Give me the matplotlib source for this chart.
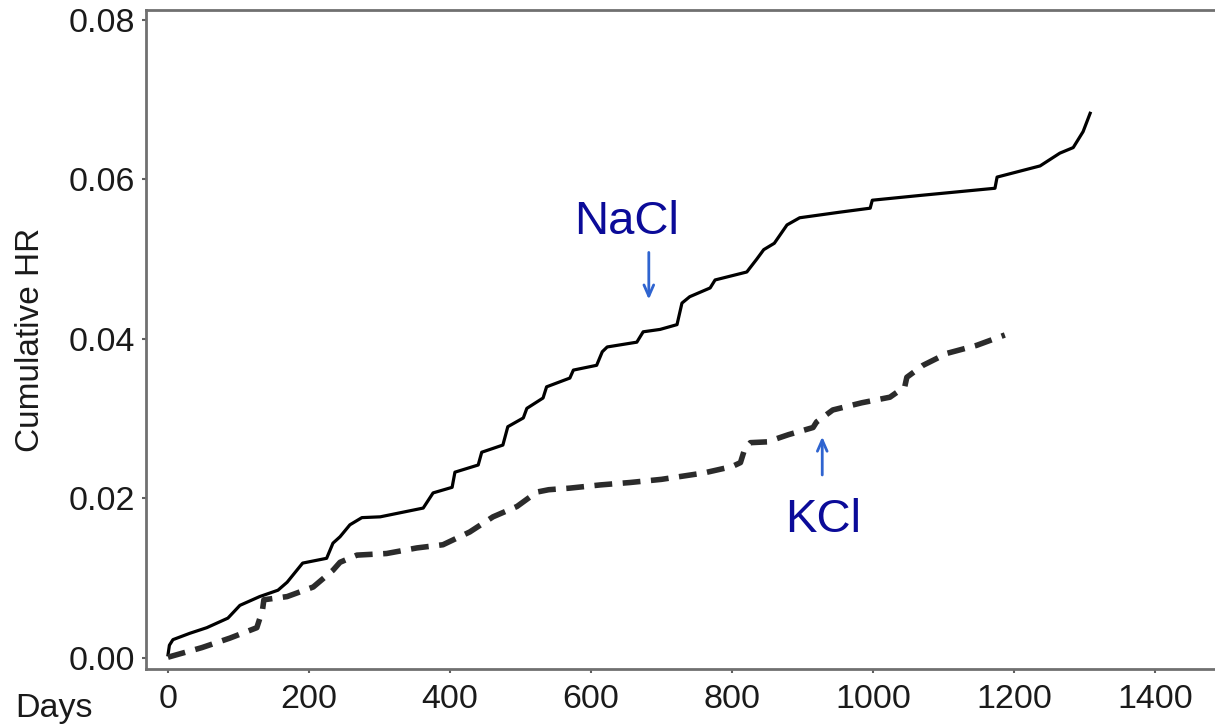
import matplotlib
matplotlib.use("Agg")
import matplotlib.pyplot as plt

plt.rcParams['font.family'] = ['Liberation Sans', 'DejaVu Sans']

# Cumulative hazard curves (days, cumulative HR)
nacl_days = [0, 2, 7, 31, 55, 85, 102, 130, 156, 169, 191, 225, 234, 244, 258,
             275, 301, 362, 376, 403, 407, 440, 445, 475, 482, 504, 509, 532,
             537, 570, 575, 608, 616, 623, 665, 674, 698, 722, 729, 740, 769,
             776, 821, 835, 845, 860, 878, 896, 953, 996, 999, 1067, 1173,
             1176, 1237, 1265, 1284, 1298, 1308]
nacl_hr = [0.0004, 0.0016, 0.0023, 0.0031, 0.0038, 0.0050, 0.0066, 0.0077,
           0.0085, 0.0095, 0.0119, 0.0125, 0.0144, 0.0152, 0.0167, 0.0176,
           0.0177, 0.0188, 0.0207, 0.0214, 0.0233, 0.0242, 0.0258, 0.0267,
           0.0290, 0.0301, 0.0313, 0.0326, 0.0340, 0.0351, 0.0361, 0.0367,
           0.0384, 0.0390, 0.0396, 0.0409, 0.0412, 0.0418, 0.0445, 0.0453,
           0.0464, 0.0474, 0.0484, 0.0500, 0.0512, 0.0520, 0.0543, 0.0552,
           0.0559, 0.0564, 0.0574, 0.0580, 0.0589, 0.0603, 0.0617, 0.0633,
           0.0640, 0.0660, 0.0683]

kcl_days = [0, 12, 48, 88, 126, 134, 136, 169, 206, 234, 244, 268, 310, 353,
            390, 428, 461, 495, 523, 540, 570, 613, 655, 700, 760, 800, 812,
            818, 826, 850, 880, 915, 920, 943, 984, 1024, 1045, 1048, 1071,
            1105, 1147, 1187]
kcl_hr = [0.0001, 0.0004, 0.0013, 0.0025, 0.0038, 0.0060, 0.0073, 0.0077,
          0.0089, 0.0110, 0.0120, 0.0129, 0.0131, 0.0138, 0.0142, 0.0158,
          0.0177, 0.0190, 0.0208, 0.0211, 0.0213, 0.0217, 0.0220, 0.0224,
          0.0232, 0.0240, 0.0245, 0.0262, 0.0270, 0.0271, 0.0280, 0.0289,
          0.0296, 0.0311, 0.0320, 0.0327, 0.0340, 0.0352, 0.0367, 0.0382,
          0.0392, 0.0405]

x_ticks = [0, 200, 400, 600, 800, 1000, 1200, 1400]
y_ticks = [0.00, 0.02, 0.04, 0.06, 0.08]
y_tick_labels = ["0.00", "0.02", "0.04", "0.06", "0.08"]

fig = plt.figure(figsize=(12.15, 7.25), dpi=100)
# the frame runs off the right edge of the canvas
ax = fig.add_axes([146 / 1215, 56 / 725, 1084 / 1215, 659 / 725])

ax.plot(nacl_days, nacl_hr, color='black', lw=2.3, solid_joinstyle='round')
ax.plot(kcl_days, kcl_hr, color='#2b2b2b', lw=4.0, dashes=(3.2, 1.9),
        dash_capstyle='butt')

x_per_px = 1400 / (1155 - 168)
ax.set_xlim(-22 * x_per_px, -22 * x_per_px + 1084 * x_per_px)
ax.set_ylim(-0.00138, 0.08125)
ax.set_xticks(x_ticks)
ax.set_xticklabels([str(t) for t in x_ticks])
ax.set_yticks(y_ticks)
ax.set_yticklabels(y_tick_labels)

for side in ('left', 'top', 'bottom'):
    ax.spines[side].set_color('#707070')
    ax.spines[side].set_linewidth(2.0)
ax.spines['right'].set_visible(False)

ax.tick_params(axis='both', direction='out', length=3, width=1.5,
               color='#606060', labelsize=24.5, labelcolor='#1a1a1a')
ax.tick_params(axis='y', pad=5)
ax.tick_params(axis='x', pad=8)

ax.set_ylabel('Cumulative HR', fontsize=24, color='#1a1a1a', labelpad=16)

fig.text(15 / 1215, 1 - 717 / 725, 'Days', fontsize=24.5, color='#1a1a1a',
         ha='left', va='baseline')

arrow_color = '#2f64d0'
text_color = '#0b0b99'

ax.text(651, 0.0547, 'NaCl', fontsize=34, color=text_color,
        ha='center', va='center')
ax.annotate('', xy=(682, 0.0446), xytext=(682, 0.0512),
            arrowprops=dict(arrowstyle='->,head_length=0.8,head_width=0.35',
                            color=arrow_color, lw=2))

ax.text(929, 0.0173, 'KCl', fontsize=34, color=text_color,
        ha='center', va='center')
ax.annotate('', xy=(928, 0.0281), xytext=(928, 0.0226),
            arrowprops=dict(arrowstyle='->,head_length=0.8,head_width=0.35',
                            color=arrow_color, lw=2))

fig.savefig('out.png', dpi=100)
